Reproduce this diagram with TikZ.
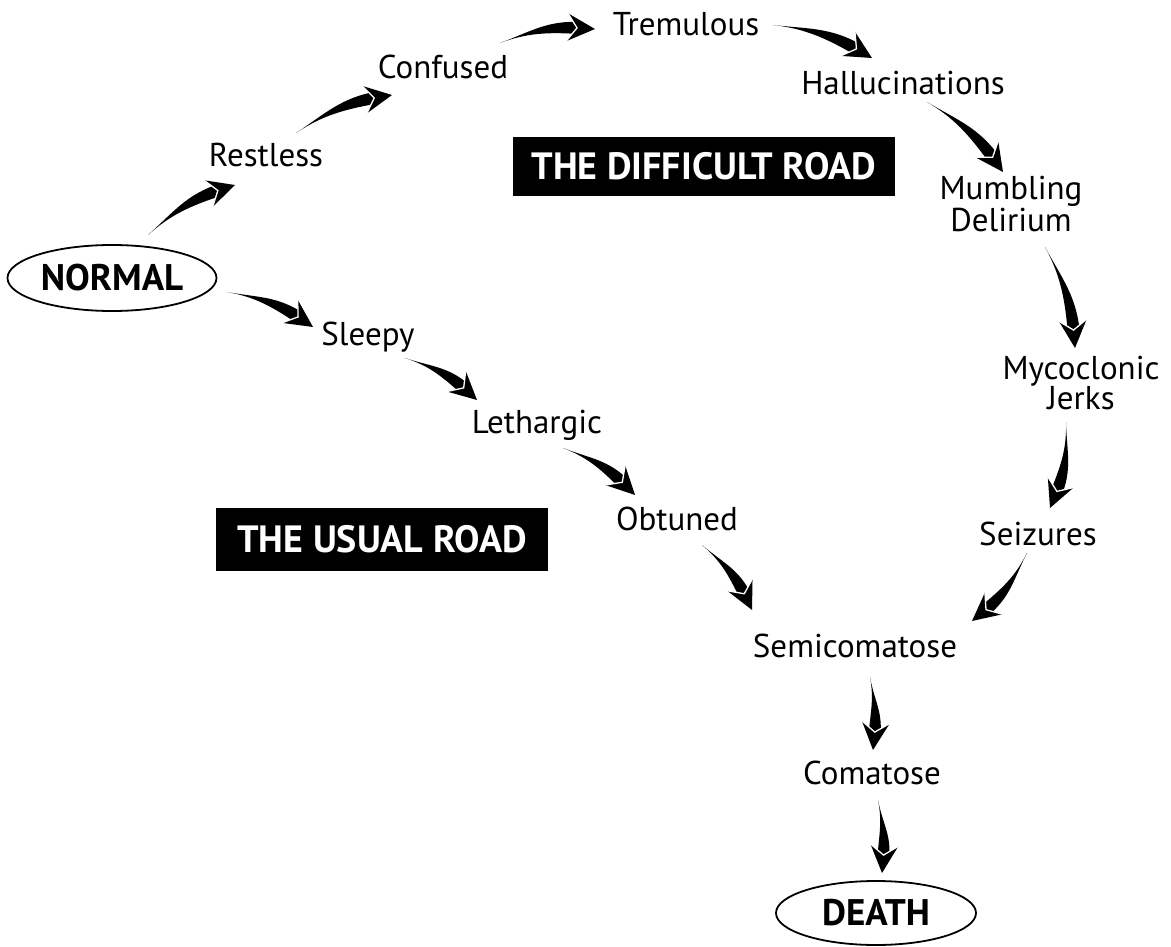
\documentclass[tikz,border=0pt]{standalone}
\usepackage{fontspec}
\setmainfont{PT Sans}
\usetikzlibrary{calc,shapes.geometric}
\newcommand{\taparrow}[3][12]{%
  \path (#3); \pgfgetlastxy{\taBx}{\taBy}%
  \path (#2); \pgfgetlastxy{\taAx}{\taAy}%
  \pgfmathsetmacro\taLen{veclen(\taBx-\taAx,\taBy-\taAy)}%
  \pgfmathsetmacro\taAng{atan2(\taBy-\taAy,\taBx-\taAx)}%
  \pgfmathsetmacro\taBack{\taAng+180-#1}%
  \pgfmathsetmacro\taLeft{\taAng+90-#1}%
  \pgfmathsetmacro\taRight{\taAng-90-#1}%
  \pgfmathsetmacro\taStart{\taAng+#1}%
  \coordinate (hB) at ($(#3)+(\taBack:28)$);
  \coordinate (hN) at ($(#3)+(\taBack:18)$);
  \coordinate (hM) at ($(#3)+(\taBack:14)$);
  \coordinate (W1) at ($(hB)+(\taLeft:14)$);
  \coordinate (W2) at ($(hB)+(\taRight:14)$);
  \coordinate (NL) at ($(hM)+(\taLeft:6)$);
  \coordinate (NR) at ($(hM)+(\taRight:6)$);
  \fill (#2) .. controls ($(#2)+(\taStart:{0.35*\taLen})$) and ($(NL)+(\taBack:{0.35*\taLen})$) .. (NL)
        -- (NR) .. controls ($(NR)+(\taBack:{0.35*\taLen})$) and ($(#2)+(\taStart:{0.3*\taLen})$) .. (#2) -- cycle;
  \fill (#3) -- (W1) -- (hN) -- (W2) -- cycle;
  \draw[white, line width=1.3pt] (W1) -- (hN) -- (W2);
}
\tikzset{
  lab/.style={font=\fontsize{33}{27}\selectfont, inner sep=0pt, anchor=base, align=center},
  twolab/.style={font=\fontsize{33}{28}\selectfont, inner sep=0pt, anchor=center, align=center},
  oval/.style={ellipse, draw, line width=1.8pt, inner sep=0pt, font=\fontsize{37}{40}\selectfont\bfseries},
  blackbox/.style={fill=black, text=white, inner sep=0pt, font=\fontsize{38}{40}\selectfont\bfseries}
}
\begin{document}
\begin{tikzpicture}[x=1pt,y=1pt]
\useasboundingbox (0,0) rectangle (1171,-947);
% nodes
\node[oval, minimum width=209pt, minimum height=66pt] (normal) at (112,-278) {NORMAL};
\node[oval, minimum width=200pt, minimum height=64pt] (death) at (876,-913) {DEATH};
\node[blackbox, minimum width=382pt, minimum height=59pt] (difficult) at (704,-166.5) {THE DIFFICULT ROAD};
\node[blackbox, minimum width=332pt, minimum height=63pt] (usual) at (382,-539.5) {THE USUAL ROAD};
\node[lab] (restless) at (266,-167) {Restless};
\node[lab] (confused) at (443,-79) {Confused};
\node[lab] (tremulous) at (686,-36) {Tremulous};
\node[lab] (halluc) at (903,-95) {Hallucinations};
\node[twolab] (mumbling) at (1011,-204) {Mumbling\\Delirium};
\node[twolab] (myco) at (1081,-383) {Mycoclonic\\Jerks};
\node[lab] (seizures) at (1038,-545) {Seizures};
\node[lab] (sleepy) at (368,-345) {Sleepy};
\node[lab] (lethargic) at (537,-433) {Lethargic};
\node[lab] (obtuned) at (677,-530) {Obtuned};
\node[lab] (semi) at (855,-657) {Semicomatose};
\node[lab] (coma) at (872,-784) {Comatose};
% connector end points
\coordinate (a1s) at (148,-235);  \coordinate (a1e) at (235,-185);
\coordinate (a2s) at (296,-133);  \coordinate (a2e) at (392,-95);
\coordinate (a3s) at (500,-43);   \coordinate (a3e) at (595,-29);
\coordinate (a4s) at (773,-25);   \coordinate (a4e) at (872,-58);
\coordinate (a5s) at (927,-102);  \coordinate (a5e) at (1003,-172);
\coordinate (a6s) at (1045,-247); \coordinate (a6e) at (1075,-348);
\coordinate (a7s) at (1066,-422); \coordinate (a7e) at (1050,-508);
\coordinate (a8s) at (1027,-553); \coordinate (a8e) at (972,-621);
\coordinate (b1s) at (227,-292);  \coordinate (b1e) at (313,-327);
\coordinate (b2s) at (405,-358);  \coordinate (b2e) at (477,-400);
\coordinate (b3s) at (563,-448);  \coordinate (b3e) at (635,-495);
\coordinate (b4s) at (702,-545);  \coordinate (b4e) at (752,-610);
\coordinate (c1s) at (870,-677);  \coordinate (c1e) at (873,-750);
\coordinate (c2s) at (878,-800);  \coordinate (c2e) at (882,-873);
% connectors
\taparrow{a1s}{a1e}
\taparrow{a2s}{a2e}
\taparrow{a3s}{a3e}
\taparrow{a4s}{a4e}
\taparrow{a5s}{a5e}
\taparrow{a6s}{a6e}
\taparrow{a7s}{a7e}
\taparrow{a8s}{a8e}
\taparrow{b1s}{b1e}
\taparrow{b2s}{b2e}
\taparrow{b3s}{b3e}
\taparrow{b4s}{b4e}
\taparrow[8]{c1s}{c1e}
\taparrow[8]{c2s}{c2e}
\end{tikzpicture}
\end{document}
